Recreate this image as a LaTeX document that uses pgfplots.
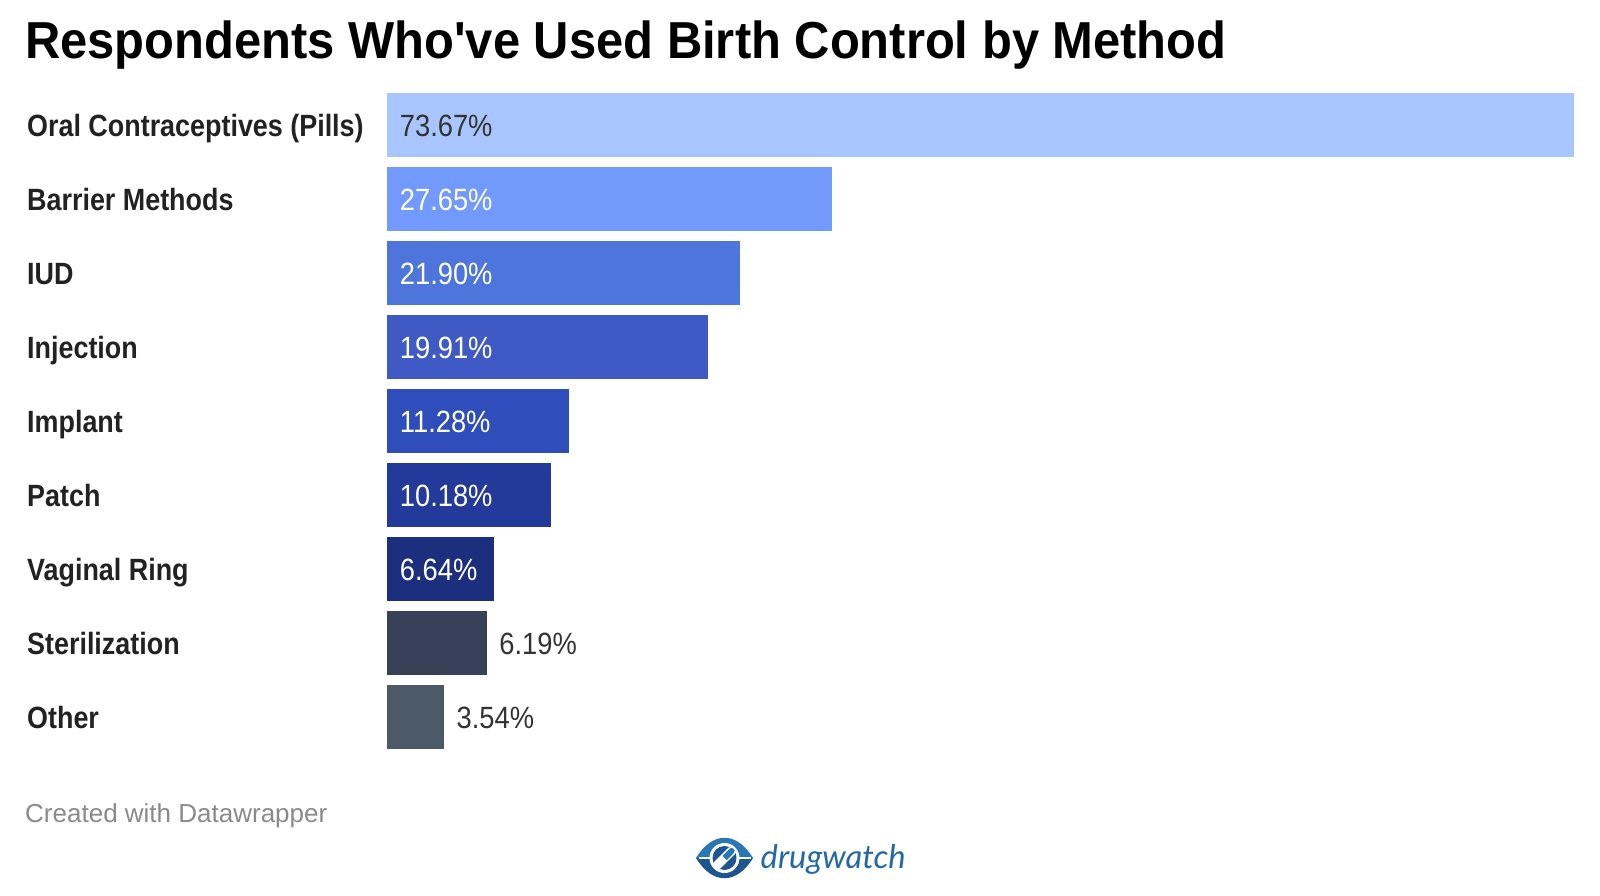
\documentclass[border=0pt]{standalone}
\usepackage{pgfplots}
\pgfplotsset{compat=1.18}
\usepackage{fontspec}
\setmainfont{Liberation Sans}
\newfontfamily\titlefont[FakeStretch=0.94]{Liberation Sans}
\newfontfamily\condensed[FakeStretch=0.875]{Liberation Sans}
\newfontfamily\valfont[FakeStretch=0.888]{Liberation Sans}
\newfontfamily\logofont{Lato}
\definecolor{c1}{HTML}{A8C5FE}
\definecolor{c2}{HTML}{729AFC}
\definecolor{c3}{HTML}{4E75DB}
\definecolor{c4}{HTML}{3F59C5}
\definecolor{c5}{HTML}{2F4DBB}
\definecolor{c6}{HTML}{243A9A}
\definecolor{c7}{HTML}{1C2F7E}
\definecolor{c8}{HTML}{374158}
\definecolor{c9}{HTML}{4B5A66}
\definecolor{txt}{HTML}{222222}
\definecolor{val}{HTML}{333333}
\definecolor{foot}{HTML}{8A8A8A}
\definecolor{logoA}{HTML}{2A77B8}
\definecolor{logoB}{HTML}{1C5590}
\definecolor{logoT}{HTML}{2468A8}
\begin{document}
\begin{tikzpicture}
\node[anchor=base west, inner sep=0pt, text=black] at (0.245,-0.585)
  {\fontsize{14.8}{17}\selectfont\titlefont\bfseries Respondents Who've Used Birth Control by Method};
\begin{axis}[
    at={(3.87cm,-0.885cm)}, anchor=north west,
    scale only axis,
    width=11.865cm, height=6.66cm,
    xbar, bar width=0.64cm, bar shift=0pt,
    xmin=0, xmax=73.67,
    ymin=-0.5, ymax=8.5, y dir=reverse,
    axis line style={draw=none},
    xtick=\empty,
    ytick={0,...,8},
    yticklabels={Oral Contraceptives (Pills), Barrier Methods, IUD, Injection, Implant, Patch, Vaginal Ring, Sterilization, Other},
    major tick length=0pt,
    yticklabel style={anchor=base west, inner sep=0pt, xshift=-3.605cm, yshift=-0.112cm,
        font=\fontsize{8.75}{10}\selectfont\condensed\bfseries, text=txt},
    clip=false,
]
\addplot[fill=c1, draw=none] coordinates {(73.67,0)};
\addplot[fill=c2, draw=none] coordinates {(27.65,1)};
\addplot[fill=c3, draw=none] coordinates {(21.90,2)};
\addplot[fill=c4, draw=none] coordinates {(19.91,3)};
\addplot[fill=c5, draw=none] coordinates {(11.28,4)};
\addplot[fill=c6, draw=none] coordinates {(10.18,5)};
\addplot[fill=c7, draw=none] coordinates {(6.64,6)};
\addplot[fill=c8, draw=none] coordinates {(6.19,7)};
\addplot[fill=c9, draw=none] coordinates {(3.54,8)};
\begin{scope}[every node/.style={anchor=base west, inner sep=0pt, yshift=-0.112cm,
    font=\fontsize{8.75}{10}\selectfont\valfont}]
\node[text=val, xshift=0.122cm] at (axis cs:0,0) {73.67\%};
\node[text=white, xshift=0.122cm] at (axis cs:0,1) {27.65\%};
\node[text=white, xshift=0.122cm] at (axis cs:0,2) {21.90\%};
\node[text=white, xshift=0.122cm] at (axis cs:0,3) {19.91\%};
\node[text=white, xshift=0.122cm] at (axis cs:0,4) {11.28\%};
\node[text=white, xshift=0.122cm] at (axis cs:0,5) {10.18\%};
\node[text=white, xshift=0.122cm] at (axis cs:0,6) {6.64\%};
\node[text=val, xshift=0.12cm] at (axis cs:6.19,7) {6.19\%};
\node[text=val, xshift=0.12cm] at (axis cs:3.54,8) {3.54\%};
\end{scope}
\end{axis}
\node[anchor=base west, inner sep=0pt, text=foot] at (0.245,-8.22)
  {\fontsize{7.4}{9}\selectfont Created with Datawrapper};
% logo
\begin{scope}[shift={(7.245,-8.58)}]
\fill[logoA] (-0.285,0) .. controls (-0.12,0.27) and (0.12,0.27) .. (0.285,0) -- (-0.285,0);
\fill[logoB] (-0.285,0) .. controls (-0.12,-0.27) and (0.12,-0.27) .. (0.285,0) -- (-0.285,0);
\fill[white] (-0.26,-0.012) rectangle (0.26,0.012);
\fill[white] (0,0) circle (0.15);
\fill[logoB] (0,0) circle (0.12);
\begin{scope}[rotate=45]
\fill[white] (-0.1,-0.045) rectangle (0.1,0.045);
\fill[white] (-0.1,0) circle (0.045);
\fill[white] (0.1,0) circle (0.045);
\fill[logoA] (0,-0.03) rectangle (0.1,0.03);
\fill[logoA] (0.1,0) circle (0.03);
\end{scope}
\end{scope}
\node[anchor=base west, inner sep=0pt, text=logoT] at (7.60,-8.68)
  {\fontsize{9.3}{12}\selectfont\logofont\itshape drugwatch};
\pgfresetboundingbox
\path[use as bounding box] (0,0) rectangle (16,-8.96);
\end{tikzpicture}
\end{document}
